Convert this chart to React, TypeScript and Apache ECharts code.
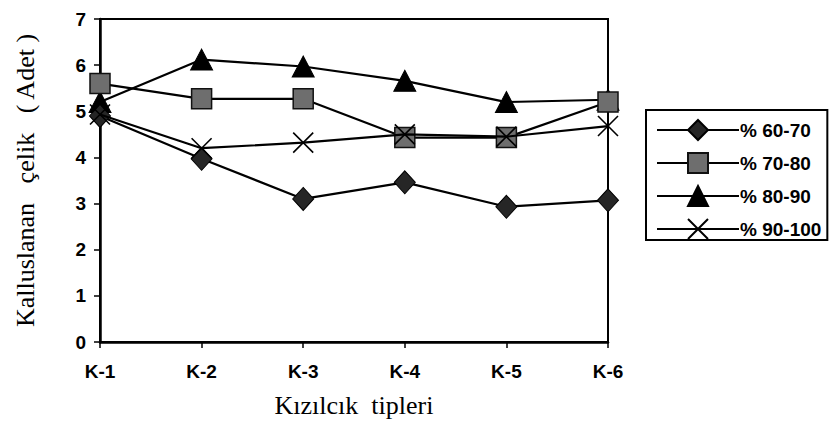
import React, { useEffect, useRef } from "react";
import * as echarts from "echarts";

const categories = ["K-1", "K-2", "K-3", "K-4", "K-5", "K-6"];
const s6070 = [4.9, 3.97, 3.1, 3.46, 2.93, 3.07];
const s7080 = [5.6, 5.27, 5.27, 4.43, 4.43, 5.2];
const s8090 = [5.2, 6.12, 5.97, 5.66, 5.2, 5.25];
const s90100 = [4.93, 4.2, 4.32, 4.5, 4.45, 4.68];
const seriesNames = ["% 60-70", "% 70-80", "% 80-90", "% 90-100"];

const xPath = "path://M0,0L20,20M20,0L0,20";

export default function App() {
  const ref = useRef<HTMLDivElement>(null);
  useEffect(() => {
    document.body.style.margin = "0";
    const chart = echarts.init(ref.current!, undefined, { renderer: "svg" });
    const lineStyle = { color: "#000", width: 2.2 };
    const tickFont = {
      fontFamily: "Liberation Sans, Arial, sans-serif",
      fontWeight: "bold" as const,
      fontSize: 19,
      color: "#000",
    };
    const nameFont = {
      fontFamily: "Liberation Serif, Times New Roman, serif",
      fontSize: 26,
      color: "#000",
    };
    chart.setOption({
      animation: false,
      backgroundColor: "#fff",
      grid: {
        left: 100,
        top: 19,
        width: 508,
        height: 323,
        show: true,
        borderColor: "#000",
        borderWidth: 2,
        backgroundColor: "transparent",
      },
      legend: {
        orient: "vertical",
        left: 646,
        top: 110,
        padding: [9, 6, 0, 10],
        itemWidth: 82,
        itemHeight: 25,
        itemGap: 11,
        borderColor: "#000",
        borderWidth: 2,
        textStyle: { ...tickFont, fontSize: 19, padding: [0, 0, 0, -4] },
        data: seriesNames,
      },
      xAxis: {
        type: "category",
        data: categories,
        boundaryGap: false,
        name: "Kızılcık  tipleri",
        nameLocation: "middle",
        nameGap: 50,
        nameTextStyle: { ...nameFont, fontSize: 26 },
        axisLine: { lineStyle: { color: "#000", width: 2.5 } },
        axisTick: { show: true, length: 6, inside: false, lineStyle: { color: "#000", width: 1.5 } },
        axisLabel: { ...tickFont, margin: 20 },
        splitLine: { show: false },
      },
      yAxis: {
        type: "value",
        min: 0,
        max: 7,
        interval: 1,
        name: "Kalluslanan   çelik   ( Adet )",
        nameLocation: "middle",
        nameGap: 62,
        nameTextStyle: nameFont,
        axisLine: { show: true, lineStyle: { color: "#000", width: 2.5 } },
        axisTick: { show: true, length: 6, lineStyle: { color: "#000", width: 1.5 } },
        axisLabel: { ...tickFont, margin: 14 },
        splitLine: { show: false },
      },
      series: [
        {
          name: seriesNames[0],
          type: "line",
          data: s6070,
          symbol: "diamond",
          symbolSize: [21, 23],
          lineStyle,
          itemStyle: { color: "#262626", borderColor: "#000", borderWidth: 1 },
          z: 4,
        },
        {
          name: seriesNames[1],
          type: "line",
          data: s7080,
          symbol: "rect",
          symbolSize: 20,
          lineStyle,
          itemStyle: { color: "#6e6e6e", borderColor: "#111", borderWidth: 1.5 },
          z: 3,
        },
        {
          name: seriesNames[2],
          type: "line",
          data: s8090,
          symbol: "triangle",
          symbolSize: [22, 21],
          lineStyle,
          itemStyle: { color: "#000", borderColor: "#000", borderWidth: 1 },
          z: 2,
        },
        {
          name: seriesNames[3],
          type: "line",
          data: s90100,
          symbol: xPath,
          symbolSize: 20,
          lineStyle,
          itemStyle: { color: "transparent", borderColor: "#000", borderWidth: 1.6 },
          z: 5,
        },
      ],
    });
    return () => chart.dispose();
  }, []);
  return <div ref={ref} style={{ width: 833, height: 446 }} />;
}
